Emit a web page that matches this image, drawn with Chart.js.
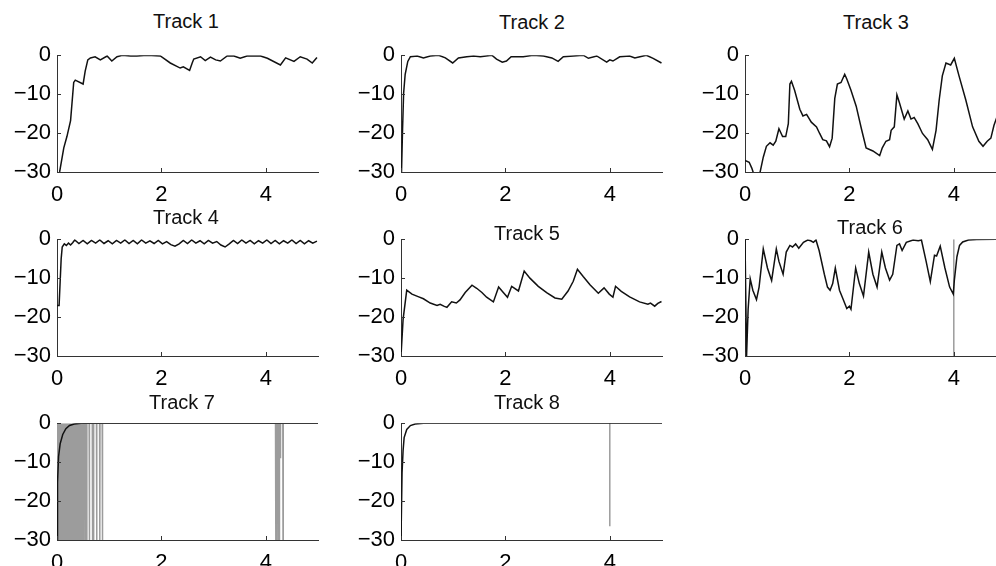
<!DOCTYPE html>
<html>
<head>
<meta charset="utf-8">
<script src="https://cdn.jsdelivr.net/npm/chart.js@4/dist/chart.umd.min.js"></script>
<style>
  html, body { margin:0; padding:0; background:#fff; width:996px; height:566px; overflow:hidden; }
  #wrap { position:relative; width:996px; height:566px; overflow:hidden; }
  canvas { position:absolute; }
  .ttl { position:absolute; font-family:'Liberation Sans', Arial, sans-serif; font-size:20px; line-height:1;
         color:#111; white-space:nowrap; transform:translate(-50%,-50%); z-index:2; }
</style>
</head>
<body>
<div id="wrap"></div>
<script>
// ---------- tick labels ----------
const xTickValues = [0, 2, 4];
const xTickLabels = ['0', '2', '4'];
const yTickValues = [-30, -20, -10, 0];
const yTickLabels = ['\u221230', '\u221220', '\u221210', '0'];
const trackTitles = ['Track 1','Track 2','Track 3','Track 4','Track 5','Track 6','Track 7','Track 8'];

// ---------- Track 1 ----------
const t1x = [0.05,0.13,0.19,0.26,0.32,0.35,0.50,0.54,0.59,0.64,0.73,0.83,0.96,1.05,1.15,1.25,1.41,1.53,1.73,1.98,2.17,2.36,2.42,2.54,2.59,2.62,2.75,2.84,2.94,3.04,3.13,3.26,3.39,3.51,3.64,3.90,4.03,4.28,4.38,4.54,4.66,4.79,4.89,4.98];
const t1y = [-30,-23.8,-20.9,-16.8,-7,-6.4,-7.4,-4.1,-1.2,-0.7,-0.4,-1.2,-0.2,-1.5,-0.4,0,-0.2,-0.2,0,-0.2,-2.0,-3.3,-3.0,-3.9,-2.0,-1.0,-0.4,-1.4,-0.5,-1.2,-1.5,-0.2,-0.2,-0.8,-0.2,-0.2,-0.8,-2.5,-0.7,-1.6,-0.4,-1.0,-2.0,-0.6];

// ---------- Track 2 ----------
const t2x = [0.01,0.03,0.05,0.08,0.13,0.18,0.31,0.43,0.56,0.72,0.85,0.99,1.10,1.26,1.39,1.52,1.74,1.83,1.94,2.02,2.11,2.34,2.53,2.73,2.89,3.01,3.11,3.30,3.49,3.59,3.75,3.94,4.00,4.06,4.19,4.38,4.48,4.70,4.83,4.99];
const t2y = [-30,-18.9,-9.8,-4.9,-1.6,-0.4,-0.2,-0.7,-0.2,0,-0.7,-2.0,-0.7,-0.4,-0.2,-0.4,0,-1.0,-1.8,-1.5,-0.4,-0.4,0,-0.2,-0.7,-1.6,-0.4,-0.2,0,-0.8,-0.2,-1.8,-1.2,-1.5,-0.4,-0.2,-0.7,0,-0.8,-2.0];

// ---------- Track 3 ----------
const t3x = [0,0.08,0.13,0.18,0.24,0.29,0.35,0.41,0.48,0.54,0.59,0.65,0.72,0.78,0.83,0.86,0.89,0.95,1.05,1.11,1.18,1.27,1.37,1.43,1.49,1.56,1.62,1.67,1.72,1.77,1.84,1.91,1.95,2.03,2.13,2.23,2.32,2.45,2.58,2.63,2.70,2.77,2.80,2.86,2.91,2.96,3.05,3.12,3.18,3.24,3.31,3.40,3.50,3.59,3.66,3.72,3.78,3.85,3.94,4.01,4.10,4.23,4.36,4.48,4.56,4.64,4.71,4.77,4.85,5.0];
const t3y = [-27,-27.5,-29,-31,-31,-30,-26.2,-23.4,-22.5,-23.1,-22.1,-18.9,-20.9,-20.9,-17.6,-7.4,-6.7,-9.0,-13.9,-15.6,-15.2,-17.2,-18.4,-20.1,-21.7,-22,-23.5,-21.3,-11.1,-7.4,-7,-4.9,-6.1,-9.0,-13.1,-18.9,-23.8,-24.6,-25.8,-23.8,-22.1,-21.7,-19.3,-18.4,-10.2,-12.3,-16.4,-14.3,-16.4,-16.0,-17.6,-20.1,-21.7,-24.2,-19.3,-11.5,-5.3,-2.0,-2.5,-0.8,-5.3,-11.5,-18.4,-22.1,-23.4,-22.1,-21.3,-18.0,-15,-12];

// ---------- Track 4 ----------
const t4x = [0,0.04,0.06,0.08,0.10,0.14,0.18,0.22,0.26,0.30,
             0.34,0.42,0.50,0.58,0.66,0.74,0.82,0.90,0.98,1.06,
             1.14,1.22,1.30,1.38,1.46,1.54,1.62,1.70,1.78,1.86,
             1.94,2.02,2.10,2.18,2.26,2.34,2.42,2.50,2.58,2.66,
             2.74,2.82,2.90,2.98,3.06,3.14,3.22,3.30,3.38,3.46,
             3.54,3.62,3.70,3.78,3.86,3.94,4.02,4.10,4.18,4.26,
             4.34,4.42,4.50,4.58,4.66,4.74,4.82,4.90,4.98];
const t4y = [-17,-17,-11,-5,-2,-1.2,-1.6,-1.0,-1.5,-0.9,
             -0.2,-1.1,-0.3,-1.2,-0.3,-1.0,-0.2,-1.1,-0.4,-1.2,
             -0.3,-1.0,-0.2,-1.1,-0.3,-1.2,-0.2,-1.0,-0.4,-1.1,
             -0.3,-1.2,-0.6,-1.4,-1.8,-1.2,-0.3,-1.1,-0.2,-1.0,
             -0.4,-1.2,-0.3,-1.0,-0.6,-1.5,-2.0,-1.2,-0.3,-1.1,
             -0.2,-1.0,-0.3,-1.2,-0.4,-1.0,-0.2,-1.1,-0.3,-1.2,
             -0.4,-1.0,-0.2,-1.1,-0.3,-1.2,-0.4,-1.0,-0.5];

// ---------- Track 5 ----------
const t5x = [0,0.04,0.11,0.21,0.34,0.43,0.56,0.69,0.75,0.82,0.88,0.97,1.06,1.13,1.23,1.36,1.45,1.55,1.64,1.77,1.87,1.96,2.04,2.12,2.25,2.36,2.47,2.63,2.79,2.95,3.08,3.20,3.30,3.38,3.49,3.62,3.78,3.89,3.99,4.06,4.11,4.22,4.38,4.57,4.73,4.78,4.86,4.92,4.99];
const t5y = [-30,-20.6,-13.1,-14.1,-14.8,-15.3,-16.4,-17.0,-16.7,-17.2,-17.5,-16.1,-16.4,-15.6,-13.7,-11.8,-12.6,-13.7,-14.9,-16.1,-12.3,-13.7,-14.9,-12.1,-13.3,-8.2,-10.0,-12.1,-13.7,-15.1,-15.4,-13.3,-10.8,-7.7,-9.6,-11.7,-13.9,-12.5,-14.1,-14.9,-12.1,-13.4,-14.8,-16.1,-16.7,-16.4,-17.2,-16.5,-16.0];

// ---------- Track 6 ----------
const t6x = [0,0.03,0.06,0.10,0.15,0.22,0.27,0.35,0.43,0.51,0.60,0.65,0.73,0.79,0.86,0.91,0.97,1.03,1.12,1.20,1.26,1.31,1.36,1.42,1.52,1.58,1.63,1.68,1.73,1.81,1.87,1.95,2.00,2.03,2.12,2.19,2.27,2.37,2.45,2.53,2.62,2.69,2.77,2.83,2.91,2.96,3.01,3.09,3.22,3.32,3.38,3.47,3.55,3.63,3.67,3.74,3.83,3.92,3.99,4.01,4.06,4.11,4.17,4.28,4.44,4.80,5.0];
const t6y = [0,-30,-18,-10.2,-13.1,-15.5,-12.3,-2.5,-7.4,-10.6,-2.5,-5.7,-9.0,-3.3,-1.6,-2.0,-1.2,-2.3,-0.8,-0.2,-0.4,-0.8,-0.2,-2.9,-9.0,-12.3,-13.1,-11.4,-7.4,-13.1,-15.1,-17.8,-17.2,-18.0,-7.4,-11.4,-14.6,-3.3,-9.0,-12.3,-3.3,-7.4,-10.5,-9.0,-1.6,-1.2,-2.9,-0.8,-0.2,-0.4,-0.2,-5.7,-10.9,-4.1,-4.3,-1.8,-7.4,-12.3,-14.1,-10.6,-4.5,-1.6,-0.7,-0.2,-0.1,0,0];
const t6GrayX = [4, 4];
const t6GrayY = [0, -30];

// ---------- Track 7 ----------
const t7x = [0,0.01,0.03,0.06,0.11,0.17,0.24,0.33,0.46,5.0];
const t7y = [-30,-15.2,-8.6,-5.3,-2.9,-1.4,-0.6,-0.2,0,0];
const t7GrayX = [0.00,0.01,0.02,0.03,0.04,0.05,0.06,0.07,0.08,0.09,
                 0.10,0.11,0.12,0.13,0.14,0.15,0.16,0.17,0.18,0.19,
                 0.20,0.21,0.22,0.23,0.24,0.25,0.26,0.27,0.28,0.29,
                 0.30,0.31,0.32,0.33,0.34,0.35,0.36,0.37,0.38,0.39,
                 0.40,0.41,0.42,0.43,0.44,0.45,0.46,0.47,0.48,0.49,
                 0.50,0.51,
                 0.536,0.54,0.544, 0.566,0.57,0.574, 0.616,0.62,0.624, 0.676,0.68,0.684,
                 0.696,0.70,0.704, 0.756,0.76,0.764, 0.816,0.82,0.824, 0.866,0.87,0.874,
                 4.186,4.19,4.194, 4.206,4.21,4.214, 4.236,4.24,4.244, 4.256,4.26,4.264,
                 4.276,4.28,4.284, 4.326,4.33,4.334, 5.0];
const t7GrayY = [-30,0,-30,0,-30,0,-30,0,-30,0,
                 -30,0,-30,0,-30,0,-30,0,-30,0,
                 -30,0,-30,0,-30,0,-30,0,-30,0,
                 -30,0,-30,0,-30,0,-30,0,-30,0,
                 -30,0,-30,0,-30,0,-30,0,-30,0,
                 -30,0,
                 0,-30,0, 0,-30,0, 0,-30,0, 0,-30,0,
                 0,-30,0, 0,-30,0, 0,-30,0, 0,-30,0,
                 0,-30,0, 0,-30,0, 0,-30,0, 0,-30,0,
                 0,-9,0, 0,-30,0, 0];

// ---------- Track 8 ----------
const t8x = [0,0.02,0.04,0.06,0.11,0.18,0.27,0.43,5.0];
const t8y = [-30,-12.7,-7,-3.7,-1.6,-0.6,-0.2,0,0];
const t8GrayX = [4, 4];
const t8GrayY = [0, -26.5];

// ---------- layout / style ----------
const FONT = "'Liberation Sans', Arial, sans-serif";
const PLOT_W = 261, PLOT_H = 122, AX_W = 57, AX_H = 35, PAD_T = 14, PAD_R = 12;
const colLeft = [57, 401, 745];
const rowTop = [50, 234, 418];
const titlePos = [[186,21],[532,22],[876,22],[186,217],[527,233],[870,227],[182,402],[527,402]];
const BLACK = '#111111', GRAY = '#9c9c9c', AXIS = '#333333';

const panels = [
  { black:[t1x,t1y] },
  { black:[t2x,t2y] },
  { black:[t3x,t3y] },
  { black:[t4x,t4y] },
  { black:[t5x,t5y] },
  { black:[t6x,t6y], gray:[t6GrayX,t6GrayY] },
  { black:[t7x,t7y], gray:[t7GrayX,t7GrayY] },
  { black:[t8x,t8y], gray:[t8GrayX,t8GrayY] },
];

const toPts = (xs, ys) => xs.map((x, i) => ({ x: x, y: ys[i] }));

const inwardTicks = {
  id: 'inwardTicks',
  afterDraw(chart) {
    const { ctx, chartArea: a, scales: { x, y } } = chart;
    ctx.save();
    ctx.strokeStyle = AXIS; ctx.lineWidth = 1;
    ctx.beginPath();
    xTickValues.forEach(v => { const px = Math.round(x.getPixelForValue(v)) + 0.5; ctx.moveTo(px, a.bottom); ctx.lineTo(px, a.bottom - 4); });
    yTickValues.forEach(v => { const py = Math.round(y.getPixelForValue(v)) + 0.5; ctx.moveTo(a.left, py); ctx.lineTo(a.left + 4, py); });
    ctx.stroke();
    ctx.restore();
  }
};

const wrap = document.getElementById('wrap');
panels.forEach((p, i) => {
  const col = i % 3, row = Math.floor(i / 3);
  const cv = document.createElement('canvas');
  const w = AX_W + PLOT_W + PAD_R, h = PAD_T + PLOT_H + AX_H;
  cv.width = w; cv.height = h;
  cv.style.left = (colLeft[col] - AX_W) + 'px';
  cv.style.top = (rowTop[row] - PAD_T) + 'px';
  cv.style.width = w + 'px'; cv.style.height = h + 'px';
  wrap.appendChild(cv);

  const t = document.createElement('div');
  t.className = 'ttl';
  t.textContent = trackTitles[i];
  t.style.left = titlePos[i][0] + 'px';
  t.style.top = titlePos[i][1] + 'px';
  wrap.appendChild(t);

  const datasets = [{
    data: toPts(p.black[0], p.black[1]),
    borderColor: BLACK, borderWidth: 1.5, pointRadius: 0, tension: 0, fill: false, order: 0
  }];
  if (p.gray) {
    datasets.push({
      data: toPts(p.gray[0], p.gray[1]),
      borderColor: GRAY, borderWidth: 1.5, pointRadius: 0, tension: 0, fill: false, order: 1
    });
  }

  new Chart(cv, {
    type: 'line',
    data: { datasets },
    plugins: [inwardTicks],
    options: {
      responsive: false, animation: false, events: [],
      devicePixelRatio: 1,
      layout: { padding: { top: PAD_T, right: PAD_R, left: 0, bottom: 0 } },
      plugins: { legend: { display: false }, tooltip: { enabled: false }, title: { display: false } },
      scales: {
        x: {
          type: 'linear', min: 0, max: 5,
          afterBuildTicks: s => { s.ticks = xTickValues.map(v => ({ value: v })); },
          afterFit: s => { s.height = AX_H; },
          ticks: { callback: (v, idx) => xTickLabels[idx], color: '#000', font: { family: FONT, size: 22 }, padding: 10, maxRotation: 0, autoSkip: false },
          grid: { display: true, drawOnChartArea: false, drawTicks: false },
          border: { display: true, color: AXIS, width: 1 }
        },
        y: {
          type: 'linear', min: -30, max: 0,
          afterBuildTicks: s => { s.ticks = yTickValues.map(v => ({ value: v })); },
          afterFit: s => { s.width = AX_W; },
          ticks: { callback: (v, idx) => yTickLabels[idx], color: '#000', font: { family: FONT, size: 22 }, padding: 6, autoSkip: false },
          grid: { display: true, drawOnChartArea: false, drawTicks: false },
          border: { display: true, color: AXIS, width: 1 }
        }
      }
    }
  });
});
</script>
</body>
</html>
